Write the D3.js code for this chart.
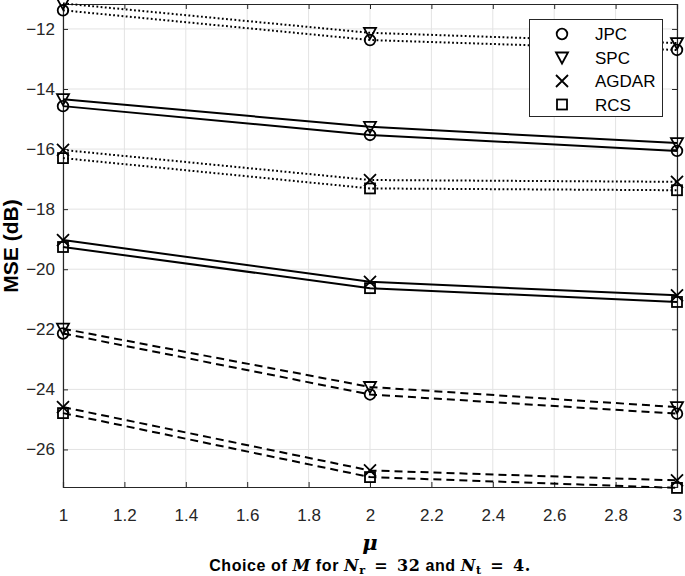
<!DOCTYPE html>
<html><head><meta charset="utf-8">
<script src="https://cdn.jsdelivr.net/npm/d3@7"></script>
<style>body{margin:0;background:#fff}svg{display:block}</style>
</head><body>
<svg id="chart" width="685" height="576"></svg>
<script>
// ---- data ----
const mu = [1, 2, 3];
const methods = ["JPC", "SPC", "AGDAR", "RCS"];
const markers = ["circle", "triangle", "cross", "square"];
const styles = ["dotted", "solid", "dashed"];
const JPC_dotted   = [-11.38, -12.37, -12.70];
const SPC_dotted   = [-11.15, -12.13, -12.47];
const AGDAR_dotted = [-16.03, -17.03, -17.09];
const RCS_dotted   = [-16.30, -17.31, -17.37];
const JPC_solid    = [-14.57, -15.53, -16.06];
const SPC_solid    = [-14.34, -15.26, -15.80];
const AGDAR_solid  = [-19.03, -20.42, -20.87];
const RCS_solid    = [-19.26, -20.63, -21.09];
const JPC_dashed   = [-22.14, -24.17, -24.81];
const SPC_dashed   = [-21.98, -23.92, -24.59];
const AGDAR_dashed = [-24.59, -26.70, -27.03];
const RCS_dashed   = [-24.79, -26.92, -27.28];
const xTicks = [1, 1.2, 1.4, 1.6, 1.8, 2, 2.2, 2.4, 2.6, 2.8, 3];
const yTicks = [-26, -24, -22, -20, -18, -16, -14, -12];

const seriesTable = {
  JPC: {dotted: JPC_dotted, solid: JPC_solid, dashed: JPC_dashed},
  SPC: {dotted: SPC_dotted, solid: SPC_solid, dashed: SPC_dashed},
  AGDAR: {dotted: AGDAR_dotted, solid: AGDAR_solid, dashed: AGDAR_dashed},
  RCS: {dotted: RCS_dotted, solid: RCS_solid, dashed: RCS_dashed}
};

const svg = d3.select("#chart");
const L = 63, R = 677, T = 4, B = 487;
const x = d3.scaleLinear().domain([1, 3]).range([L, R]);
const y = d3.scaleLinear().domain([-27.25, -11.17]).range([B, T]);
const font = "'Liberation Sans', Arial, Helvetica, sans-serif";
const minus = s => String(s).replace("-", "\u2212");

// grid
const g = svg.append("g");
g.selectAll(".gx").data(xTicks).enter().append("line")
  .attr("x1", d => x(d)).attr("x2", d => x(d)).attr("y1", T).attr("y2", B)
  .attr("stroke", "#e3e3e3").attr("stroke-width", 1);
g.selectAll(".gy").data(yTicks).enter().append("line")
  .attr("x1", L).attr("x2", R).attr("y1", d => y(d)).attr("y2", d => y(d))
  .attr("stroke", "#e3e3e3").attr("stroke-width", 1);

// axes
const xAxis = d3.axisBottom(x).tickValues(xTicks).tickSize(-5).tickPadding(22).tickFormat(d => d3.format("")(d));
const yAxis = d3.axisLeft(y).tickValues(yTicks).tickSize(-5).tickPadding(8).tickFormat(d => minus(d));
const xa = svg.append("g").attr("transform", `translate(0,${B})`).call(xAxis);
const ya = svg.append("g").attr("transform", `translate(${L},0)`).call(yAxis);
const xt = svg.append("g").attr("transform", `translate(0,${T})`).call(d3.axisTop(x).tickValues(xTicks).tickSize(-5).tickFormat(""));
const yr = svg.append("g").attr("transform", `translate(${R},0)`).call(d3.axisRight(y).tickValues(yTicks).tickSize(-5).tickFormat(""));
[xa, ya, xt, yr].forEach(a => {
  a.select(".domain").attr("stroke", "#262626").attr("stroke-width", 1.2);
  a.selectAll(".tick line").attr("stroke", "#262626").attr("stroke-width", 1);
  a.selectAll("text").attr("font-family", font).attr("font-size", 17).attr("fill", "#262626");
});

// lines
const dashes = {dotted: "1.8,2.4", solid: null, dashed: "8,5"};
const line = d3.line().x((d, i) => x(mu[i])).y(d => y(d));
styles.forEach(st => {
  methods.forEach(m => {
    svg.append("path").datum(seriesTable[m][st])
      .attr("d", line).attr("fill", "none").attr("stroke", "#000")
      .attr("stroke-width", 2).attr("stroke-dasharray", dashes[st]);
  });
});

// markers
function drawMarker(sel, type, cx, cy) {
  const s = 6;
  if (type === "circle") {
    sel.append("circle").attr("cx", cx).attr("cy", cy).attr("r", 5.3);
  } else if (type === "triangle") {
    sel.append("path").attr("d", `M${cx - s},${cy - 5} L${cx + s},${cy - 5} L${cx},${cy + 6} Z`);
  } else if (type === "cross") {
    sel.append("path").attr("d", `M${cx - s},${cy - s} L${cx + s},${cy + s} M${cx - s},${cy + s} L${cx + s},${cy - s}`);
  } else {
    sel.append("rect").attr("x", cx - 5).attr("y", cy - 5).attr("width", 10).attr("height", 10);
  }
}
const mg = svg.append("g").attr("fill", "none").attr("stroke", "#000").attr("stroke-width", 1.8);
styles.forEach(st => {
  methods.forEach((m, k) => {
    seriesTable[m][st].forEach((v, i) => drawMarker(mg, markers[k], x(mu[i]), y(v)));
  });
});

// legend
const lg = svg.append("g");
lg.append("rect").attr("x", 529.5).attr("y", 19.5).attr("width", 133).attr("height", 97)
  .attr("fill", "#fff").attr("stroke", "#262626").attr("stroke-width", 1);
const lm = lg.append("g").attr("fill", "none").attr("stroke", "#000").attr("stroke-width", 1.8);
methods.forEach((m, k) => {
  const yy = 34 + k * 23.5;
  drawMarker(lm, markers[k], 562, yy);
  lg.append("text").attr("x", 595).attr("y", yy).attr("dy", "0.36em")
    .attr("font-family", font).attr("font-size", 17).attr("fill", "#000").text(m);
});

// axis labels
svg.append("text").attr("transform", `translate(18,246) rotate(-90)`)
  .attr("text-anchor", "middle").attr("font-family", font).attr("font-weight", "bold")
  .attr("font-size", 21).attr("fill", "#000").text("MSE (dB)");
svg.append("text").attr("x", 370).attr("y", 550).attr("text-anchor", "middle")
  .attr("font-family", "'DejaVu Serif', serif").attr("font-style", "italic").attr("font-weight", "bold")
  .attr("font-size", 21).attr("fill", "#000").text("\u03bc");

// caption
const serif = "'DejaVu Serif', 'Liberation Serif', serif";
const cap = svg.append("text").attr("x", 370).attr("y", 571).attr("text-anchor", "middle")
  .attr("font-size", 16).attr("font-weight", "bold").attr("fill", "#000");
const parts = [
  ["Choice of ", font, "normal"], ["M", serif, "italic"], [" for ", font, "normal"],
  ["N", serif, "italic"], ["r", serif, "normal", "sub"], ["\u2002=\u200232", serif, "normal"],
  [" and ", font, "normal"], ["N", serif, "italic"], ["t", serif, "normal", "sub"], ["\u2002=\u20024.", serif, "normal"]
];
let prevSub = false;
parts.forEach(p => {
  const t = cap.append("tspan").attr("font-family", p[1]).attr("font-style", p[2]).text(p[0]);
  if (p[3] === "sub") t.attr("font-size", "0.7em").attr("dy", 3);
  else if (prevSub) t.attr("dy", -3);
  prevSub = (p[3] === "sub");
});
const w = cap.node().getComputedTextLength();
const nChars = parts.reduce((a, p) => a + p[0].length, 0);
cap.attr("letter-spacing", Math.min(0.6, Math.max(0, (338 - w) / nChars)));
</script>
</body></html>
